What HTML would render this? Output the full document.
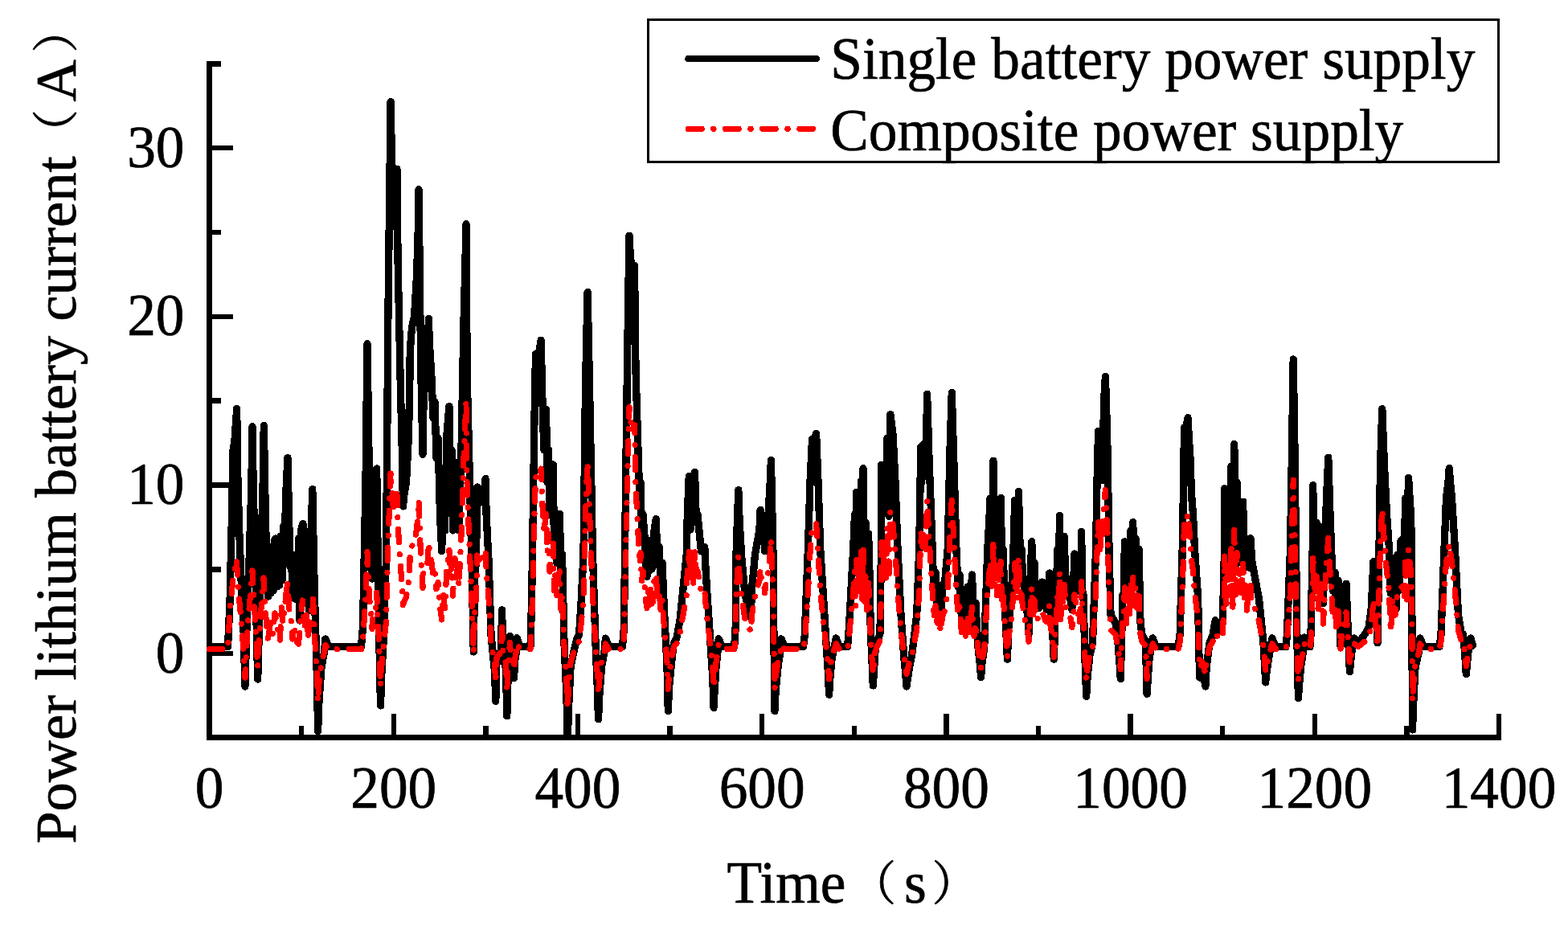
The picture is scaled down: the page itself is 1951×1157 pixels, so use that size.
<!DOCTYPE html>
<html lang="en"><head><meta charset="utf-8"><title>Power lithium battery current</title>
<style>
html,body{margin:0;padding:0;background:#fff;}
body{width:1951px;height:1157px;overflow:hidden;}
svg{display:block;}
path,rect{shape-rendering:crispEdges;}
text{font-family:"Liberation Serif","Noto Serif CJK SC",serif;font-size:73.3px;fill:#000;stroke:#000;stroke-width:0.7px;stroke-linejoin:round;}
.ax{stroke:#000;stroke-width:7;fill:none;stroke-linecap:butt;}
.tk{stroke:#000;stroke-width:6.4;fill:none;stroke-linecap:butt;}
.bl{stroke:#000;stroke-width:9.3;fill:none;stroke-linejoin:round;stroke-linecap:round;}
.rd{stroke:#f00;stroke-width:7.2;fill:none;stroke-linejoin:round;stroke-linecap:round;stroke-dasharray:16.3 14.9 0.1 14.8;}
</style></head><body>
<svg width="1951" height="1157" viewBox="0 0 1951 1157">
<rect width="1951" height="1157" fill="#fff"/>
<g id="axes" shape-rendering="crispEdges">
<path class="tk" d="M260.5,917.9 v-29.5 M375.1,917.9 v-15 M489.7,917.9 v-29.5 M604.3,917.9 v-15 M718.9,917.9 v-29.5 M833.5,917.9 v-15 M948.1,917.9 v-29.5 M1062.8,917.9 v-15 M1177.4,917.9 v-29.5 M1292.0,917.9 v-15 M1406.6,917.9 v-29.5 M1521.2,917.9 v-15 M1635.8,917.9 v-29.5 M1750.4,917.9 v-15 M1865.0,917.9 v-29.5 M260.5,917.9 h14.3 M260.5,813.1 h29.4 M260.5,708.3 h14.3 M260.5,603.5 h29.4 M260.5,498.6 h14.3 M260.5,393.8 h29.4 M260.5,289.0 h14.3 M260.5,184.2 h29.4 M260.5,79.4 h14.3"/>
<path class="ax" d="M260.5,75.9 V921.4 M257.0,917.9 H1868.3"/>
</g>
<clipPath id="plot"><rect x="257" y="60" width="1620" height="861"/></clipPath>
<g id="curves" clip-path="url(#plot)">
<path class="bl" d="M260.5,804.5 L283.5,804.5 L286.0,750.0 L288.5,640.0 L290.0,560.0 L292.0,548.0 L293.4,526.3 L294.7,508.5
L295.5,580.0 L297.7,660.0 L300.0,720.0 L303.0,780.0 L304.9,854.0 L307.0,780.0 L310.0,700.0 L312.8,606.8
L314.0,530.5 L315.2,606.8 L317.5,700.0 L319.2,780.0 L320.7,845.0 L322.5,780.0 L324.5,700.0 L327.1,606.2
L328.3,529.5 L330.5,650.0 L332.0,700.0 L333.7,742.0 L335.5,690.0 L337.0,738.0 L338.5,680.0 L340.0,735.0
L341.5,672.0 L343.0,670.0 L344.5,730.0 L346.0,672.0 L347.5,728.0 L349.3,667.0 L351.0,722.0 L352.5,655.0
L354.0,700.0 L355.5,620.0 L357.9,569.5 L359.5,640.0 L361.0,705.0 L362.5,690.0 L364.0,740.0 L365.5,700.0
L367.0,745.0 L368.5,690.0 L370.0,740.0 L371.5,670.0 L373.0,772.0 L374.5,660.0 L376.9,651.5 L378.5,740.0
L380.0,670.0 L381.5,745.0 L383.0,690.0 L384.5,760.0 L386.0,690.0 L387.6,645.2 L388.8,608.5 L390.5,700.0
L392.0,760.0 L394.4,842.2 L395.6,909.5 L396.9,873.7 L400.0,830.0 L403.6,810.8 L404.8,795.0 L409.0,804.5
L449.5,804.5 L451.5,780.0 L455.0,600.0 L457.0,427.5 L459.5,600.0 L461.8,666.0 L463.0,720.0 L464.2,658.4
L467.4,644.6 L468.7,583.0 L469.9,671.6 L471.5,780.0 L473.5,878.0 L474.8,838.4 L477.5,790.0 L480.3,700.0
L481.5,580.0 L482.6,420.0 L484.0,300.0 L486.1,126.5 L487.4,196.0 L488.2,211.5 L489.5,281.0 L490.8,249.3
L492.6,242.2 L493.9,210.5 L495.1,325.5 L498.0,466.0 L500.2,556.2 L501.5,630.0 L502.8,616.5 L505.5,600.0
L508.5,540.0 L509.8,480.0 L510.2,440.0 L511.5,418.6 L513.0,405.0 L515.5,394.0 L518.0,353.0 L520.0,300.0
L521.0,235.5 L521.8,300.0 L522.6,373.0 L524.0,470.0 L526.0,565.5 L527.2,489.4 L532.0,472.6 L533.3,396.5
L534.5,429.6 L537.0,470.0 L539.0,520.0 L541.0,500.0 L543.0,570.0 L545.0,545.0 L547.5,640.0 L549.7,685.5
L551.5,600.0 L553.5,660.0 L556.0,540.0 L557.6,521.0 L558.9,505.5 L560.5,600.0 L562.0,560.0 L563.5,660.0
L565.0,600.0 L566.0,575.0 L567.5,640.0 L569.5,610.0 L571.0,660.0 L572.2,615.0 L574.0,560.0 L577.0,400.0
L578.8,333.2 L580.0,278.5 L581.2,468.2 L587.0,700.0 L589.3,811.0 L590.5,718.8 L592.5,698.2 L593.7,606.0
L598.0,625.0 L599.2,611.7 L602.8,608.8 L604.0,595.5 L605.2,642.5 L608.2,700.0 L611.0,790.0 L615.5,835.3
L616.8,872.3 L618.0,821.3 L623.4,809.9 L624.6,758.9 L625.9,818.2 L629.5,831.4 L630.8,890.7 L632.0,846.2
L633.1,836.2 L634.4,791.7 L635.6,815.1 L638.2,820.2 L639.5,843.6 L640.8,821.1 L641.8,816.2 L643.0,793.7
L647.0,804.5 L660.0,804.5 L661.5,750.0 L662.5,690.0 L665.0,520.0 L666.5,440.5 L669.5,446.0 L673.1,423.3
L675.5,520.0 L677.0,560.0 L679.5,509.5 L681.0,600.0 L682.5,560.0 L684.0,640.0 L686.0,600.0 L688.2,578.0
L689.5,680.0 L691.0,640.0 L692.5,700.0 L694.5,650.0 L696.4,639.6 L698.0,720.0 L699.5,690.0 L702.0,800.0
L705.0,868.2 L706.2,924.0 L707.5,881.7 L710.0,830.0 L714.5,808.0 L717.9,794.8 L720.5,790.0 L723.0,751.5
L726.0,690.0 L728.5,480.0 L729.9,415.9 L731.1,363.4 L733.5,480.0 L737.5,690.0 L741.0,800.0 L743.2,852.1
L744.5,894.8 L745.8,865.6 L748.5,830.0 L752.1,810.3 L753.4,794.1 L757.5,804.5 L774.5,804.5 L776.5,780.0
L777.5,690.0 L780.4,460.0 L781.8,368.3 L783.0,293.3 L784.2,316.6 L784.8,321.7 L786.0,345.0 L789.5,330.5
L791.0,460.0 L794.0,560.0 L796.0,625.0 L797.0,600.0 L798.5,660.0 L800.0,640.0 L802.0,667.0 L803.5,700.0
L805.0,717.5 L806.5,680.0 L808.0,710.0 L809.5,672.0 L811.0,708.0 L812.5,705.0 L814.0,660.0 L816.3,645.7
L818.0,700.0 L820.0,680.0 L822.0,722.0 L824.0,700.0 L826.5,760.0 L830.0,828.5 L831.3,884.6 L832.5,855.5
L836.0,820.0 L838.5,800.0 L841.9,793.7 L846.0,772.0 L854.2,690.0 L855.3,640.0 L857.3,592.4 L859.1,659.0
L861.0,600.0 L862.8,649.2 L864.5,587.3 L866.2,643.0 L868.0,640.0 L870.2,663.0 L872.5,686.0 L876.8,680.6
L878.0,707.3 L880.0,740.0 L884.0,800.0 L886.8,844.3 L888.0,880.5 L889.2,857.8 L891.0,830.0 L893.0,810.6
L894.2,794.8 L898.3,804.5 L913.7,804.5 L915.2,780.0 L916.0,690.0 L917.5,645.7 L918.8,609.5 L920.0,645.7
L922.5,690.0 L927.0,740.0 L934.2,767.7 L935.5,732.7 L939.5,690.0 L944.9,659.5 L946.1,634.5 L947.4,657.5
L950.4,662.7 L951.6,685.7 L952.9,665.1 L956.0,640.0 L958.1,602.8 L959.4,572.3 L960.6,625.3 L962.0,690.0
L963.0,800.0 L963.9,884.6 L965.1,860.0 L968.0,830.0 L970.9,810.6 L972.1,794.8 L976.0,804.5 L999.5,804.5
L1001.3,790.0 L1005.4,683.0 L1008.0,600.0 L1010.5,546.5 L1013.0,548.0 L1015.6,539.5 L1018.0,600.0 L1020.7,683.0
L1025.0,750.0 L1028.0,800.0 L1030.3,835.3 L1031.6,864.2 L1032.8,844.3 L1035.0,820.0 L1040.2,793.9 L1044.3,804.5
L1054.6,804.5 L1056.5,780.0 L1061.7,683.0 L1063.5,640.0 L1064.7,700.1 L1065.8,612.3 L1067.4,700.8 L1069.0,612.0
L1070.2,706.4 L1071.5,598.0 L1072.8,694.4 L1074.0,582.5 L1075.5,705.8 L1077.0,650.0 L1078.8,711.6 L1080.5,664.0
L1081.5,690.0 L1083.3,785.0 L1085.0,822.4 L1086.3,853.0 L1087.5,833.6 L1089.0,810.0 L1091.5,798.0 L1095.0,788.0
L1096.2,700.0 L1096.6,578.4 L1098.5,628.5 L1100.5,590.0 L1102.2,629.5 L1104.0,545.0 L1106.0,642.3 L1107.9,515.5
L1111.0,540.0 L1114.0,600.0 L1117.0,683.0 L1121.0,765.0 L1125.0,820.0 L1126.8,838.7 L1128.0,854.0 L1131.5,830.0
L1134.5,816.0 L1140.7,765.0 L1143.7,683.0 L1145.8,555.9 L1146.8,600.2 L1147.9,554.0 L1149.0,591.9 L1150.0,552.0
L1151.8,590.1 L1153.6,490.3 L1156.0,570.0 L1160.2,683.0 L1162.0,740.0 L1164.0,712.0 L1166.0,760.0 L1168.0,728.0
L1170.4,768.9 L1172.5,735.0 L1176.0,720.0 L1179.2,683.0 L1182.0,560.0 L1184.3,488.2 L1185.5,529.5 L1187.0,580.0
L1189.9,683.0 L1192.0,730.0 L1194.0,715.0 L1196.5,772.0 L1199.0,738.0 L1201.5,778.0 L1204.0,730.0 L1206.5,782.0
L1207.8,751.9 L1208.2,745.1 L1209.4,715.0 L1210.7,743.4 L1210.8,749.6 L1212.0,778.0 L1214.0,750.0 L1215.2,774.8
L1217.0,805.0 L1219.3,825.7 L1220.6,842.7 L1221.8,826.2 L1224.7,806.0 L1228.8,683.0 L1230.8,648.4 L1232.0,620.0
L1234.0,700.1 L1236.0,573.3 L1237.5,681.2 L1239.0,625.0 L1240.5,700.2 L1242.0,630.0 L1243.6,677.5 L1245.2,619.4
L1246.6,697.6 L1248.0,683.0 L1250.5,760.0 L1252.2,793.1 L1253.4,820.2 L1254.7,784.1 L1258.5,740.0 L1261.0,683.0
L1262.7,622.5 L1263.8,698.6 L1265.0,625.0 L1266.2,701.5 L1267.4,611.3 L1269.2,685.2 L1271.0,683.0 L1272.2,708.6
L1275.0,740.0 L1278.8,767.2 L1280.0,789.4 L1282.0,720.0 L1283.8,673.8 L1285.4,744.7 L1287.0,700.0 L1289.0,751.5
L1291.0,740.0 L1292.4,756.7 L1293.8,732.0 L1295.1,744.0 L1296.5,724.0 L1297.6,748.9 L1298.8,734.5 L1301.0,745.0
L1302.2,758.4 L1303.3,729.0 L1304.5,741.0 L1305.7,713.0 L1307.3,758.8 L1309.0,770.0 L1311.3,820.2 L1312.5,784.1
L1314.0,740.0 L1316.0,683.0 L1317.2,725.3 L1318.5,641.4 L1319.8,736.3 L1321.0,670.0 L1322.6,722.2 L1324.2,667.6
L1326.1,734.7 L1328.0,720.0 L1330.9,739.4 L1333.8,758.7 L1335.0,727.3 L1335.8,720.4 L1337.0,689.0 L1339.0,726.8
L1341.0,720.0 L1342.2,735.8 L1343.3,690.8 L1344.4,731.1 L1345.6,661.5 L1346.8,735.1 L1348.0,740.0 L1350.0,820.0
L1351.7,866.3 L1353.0,843.2 L1356.0,815.0 L1359.5,800.0 L1363.6,683.0 L1365.0,600.0 L1366.6,536.4 L1368.5,595.3
L1370.5,541.0 L1372.0,597.7 L1373.5,500.0 L1375.4,468.3 L1376.7,509.6 L1378.0,560.0 L1380.0,683.0 L1382.0,765.0
L1388.0,775.0 L1391.0,800.0 L1393.0,824.6 L1394.3,844.8 L1395.5,797.6 L1395.8,787.2 L1397.0,740.0 L1398.2,742.3
L1399.4,673.8 L1400.6,728.3 L1401.7,677.9 L1402.8,737.1 L1404.0,682.0 L1405.5,735.8 L1407.0,660.0 L1408.3,730.4
L1409.7,649.6 L1411.3,718.0 L1413.0,670.0 L1415.0,719.2 L1417.0,683.0 L1419.0,775.0 L1421.0,790.0 L1424.0,795.0
L1425.5,800.0 L1427.1,863.2 L1428.3,843.8 L1430.0,820.0 L1434.3,793.9 L1438.4,804.5 L1466.0,804.5 L1468.1,790.0
L1471.2,683.0 L1472.6,600.0 L1473.5,532.0 L1475.5,535.0 L1478.0,519.6 L1479.2,542.3 L1481.0,570.0 L1482.5,615.0
L1484.5,640.0 L1486.5,683.0 L1490.7,745.0 L1491.5,800.0 L1492.7,843.0 L1496.0,830.0 L1499.9,854.0 L1501.2,829.7
L1505.0,800.0 L1509.0,790.0 L1512.2,771.8 L1517.3,786.0 L1521.4,775.0 L1523.5,683.0 L1523.5,607.8 L1524.8,699.4
L1526.0,619.2 L1527.3,688.7 L1528.6,630.7 L1530.3,702.4 L1532.0,580.0 L1533.9,699.8 L1535.8,552.4 L1537.4,708.6
L1539.0,600.0 L1540.8,697.7 L1542.5,640.0 L1544.5,699.5 L1546.6,624.2 L1548.3,694.6 L1550.0,670.0 L1551.5,702.7
L1553.0,680.0 L1554.5,706.3 L1555.9,669.7 L1558.0,700.0 L1566.5,745.0 L1572.0,800.0 L1573.5,826.9 L1574.7,848.9
L1576.0,835.9 L1578.5,820.0 L1582.9,793.9 L1587.0,804.5 L1600.0,804.5 L1601.4,790.0 L1605.5,683.0 L1607.5,560.0
L1609.2,447.0 L1611.0,560.0 L1612.5,683.0 L1614.0,800.0 L1615.4,868.3 L1616.7,851.1 L1618.5,830.0 L1621.7,809.6
L1622.9,793.0 L1626.5,804.5 L1630.0,804.5 L1631.0,790.0 L1633.2,683.0 L1633.6,603.7 L1636.0,690.0 L1638.0,650.0
L1640.0,720.0 L1642.5,655.3 L1644.5,705.0 L1646.4,750.5 L1648.5,680.0 L1650.5,620.0 L1652.8,569.2 L1655.0,640.0
L1656.6,683.0 L1658.5,735.0 L1661.0,712.0 L1663.0,765.0 L1665.0,722.0 L1666.2,758.8 L1666.8,766.9 L1668.0,803.7
L1669.2,784.0 L1671.0,760.0 L1673.8,741.5 L1675.0,726.3 L1677.5,790.0 L1679.4,835.5 L1682.0,810.0 L1685.3,794.0
L1690.0,800.0 L1694.0,795.0 L1699.0,788.0 L1703.0,780.0 L1706.0,760.0 L1707.7,726.2 L1708.9,698.6 L1710.2,721.7
L1711.5,750.0 L1714.0,799.7 L1716.0,683.0 L1717.5,580.0 L1719.8,508.7 L1721.0,540.8 L1722.5,580.0 L1725.5,640.0
L1728.5,683.0 L1730.2,738.1 L1732.0,694.0 L1733.8,752.0 L1735.5,705.0 L1737.2,757.1 L1739.0,690.0 L1740.8,734.4
L1742.7,673.8 L1746.5,670.0 L1747.5,693.9 L1748.5,620.0 L1750.5,667.3 L1752.6,594.4 L1753.8,614.9 L1755.5,640.0
L1756.5,683.0 L1757.0,800.0 L1757.5,908.0 L1758.8,872.9 L1761.0,830.0 L1765.7,810.2 L1766.9,794.0 L1771.4,804.5
L1791.0,804.5 L1793.0,790.0 L1797.0,683.0 L1799.5,620.0 L1802.0,599.4 L1803.2,582.5 L1804.5,599.4 L1806.5,620.0
L1810.4,683.0 L1814.5,765.0 L1818.6,790.0 L1820.6,789.0 L1822.5,810.0 L1824.3,838.6 L1825.5,825.7 L1827.0,810.0
L1829.9,794.0 L1832.5,803.0"/>
<path class="rd" d="M260.5,807.7 L283.5,807.7 L286.0,760.0 L290.0,720.0 L294.3,696.0 L297.0,740.0 L300.0,770.0 L303.0,810.0
L305.0,843.0 L307.0,800.0 L309.0,770.0 L314.0,710.0 L318.0,780.0 L320.7,830.0 L322.5,790.0 L324.0,770.0
L328.0,719.0 L331.0,770.0 L333.7,799.0 L336.0,775.0 L339.0,790.0 L342.0,763.0 L345.0,780.0 L348.5,797.0
L350.0,753.0 L352.0,775.0 L354.0,760.0 L357.5,722.0 L360.0,760.0 L362.0,770.0 L364.0,795.0 L366.0,778.0
L368.5,798.0 L371.5,801.0 L374.0,770.0 L376.4,747.0 L379.0,780.0 L381.0,765.0 L383.0,794.0 L386.0,770.0
L389.6,745.0 L391.5,790.0 L393.0,820.0 L394.4,831.2 L395.6,872.9 L396.9,850.7 L400.0,823.6 L403.6,811.6
L404.8,802.6 L409.0,807.7 L449.5,807.8 L451.5,797.0 L455.0,742.8 L457.0,685.8 L459.5,742.8 L461.8,764.5
L463.0,782.4 L464.2,762.0 L467.4,757.5 L468.7,737.2 L469.9,766.4 L471.5,797.0 L473.5,853.3 L474.8,828.8
L477.5,800.6 L480.3,775.8 L481.5,736.2 L482.6,683.4 L484.0,643.8 L486.1,586.5 L487.4,609.5 L488.2,614.6
L489.5,637.5 L490.8,627.0 L492.6,624.7 L493.9,614.2 L495.1,652.2 L498.0,698.5 L500.2,728.3 L501.5,752.7
L502.8,748.2 L505.5,742.8 L508.5,723.0 L509.8,703.2 L510.2,690.0 L511.5,682.9 L513.0,678.4 L515.5,674.8
L518.0,661.3 L520.0,643.8 L521.0,622.5 L521.8,643.8 L522.6,667.9 L524.0,699.9 L526.0,731.4 L527.2,706.3
L532.0,700.7 L533.3,675.6 L534.5,686.5 L537.0,699.9 L539.0,716.4 L541.0,709.8 L543.0,732.9 L545.0,724.6
L547.5,756.0 L549.7,771.0 L551.5,739.4 L553.5,757.0 L556.0,705.9 L557.6,693.5 L558.9,683.1 L560.5,719.5
L562.0,698.0 L563.5,741.1 L565.0,709.5 L566.0,694.9 L567.5,724.5 L569.5,704.9 L571.0,729.1 L572.2,701.9
L574.0,666.4 L577.0,569.4 L578.8,529.9 L580.0,497.7 L581.2,609.6 L587.0,746.4 L589.3,811.7 L590.5,757.4
L592.5,745.3 L593.7,690.9 L598.0,702.1 L599.2,694.3 L602.8,692.5 L604.0,684.7 L605.2,712.5 L608.2,746.4
L611.0,798.4 L615.5,826.8 L616.8,849.8 L618.0,818.2 L623.4,811.0 L624.6,780.6 L625.9,816.3 L629.5,824.4
L630.8,861.2 L632.0,833.6 L633.1,827.4 L634.4,799.5 L635.6,814.3 L638.2,817.5 L639.5,832.0 L640.8,818.1
L641.8,815.0 L643.0,800.7 L647.0,807.5 L660.0,807.5 L661.5,775.9 L662.5,740.5 L665.0,640.2 L666.5,593.3
L669.5,596.5 L673.1,583.1 L675.5,640.2 L677.0,663.8 L679.5,634.0 L681.0,687.4 L682.5,663.8 L684.0,711.0
L686.0,687.4 L688.2,674.4 L689.5,734.6 L691.0,711.0 L692.5,746.4 L694.5,716.9 L696.4,710.7 L698.0,758.2
L699.5,740.5 L702.0,804.6 L705.0,847.3 L706.2,881.9 L707.5,855.6 L710.0,823.6 L714.5,809.8 L717.9,801.4
L720.5,798.4 L723.0,776.7 L726.0,747.9 L728.5,636.6 L729.9,602.6 L731.1,574.8 L733.5,636.6 L737.5,740.5
L741.0,804.6 L743.2,837.3 L744.5,863.7 L745.8,845.7 L748.5,823.6 L752.1,811.2 L753.4,801.0 L757.5,807.5
L774.5,807.5 L776.5,792.5 L777.5,740.5 L780.4,604.8 L781.8,550.7 L783.0,506.4 L784.2,520.1 L784.8,523.2
L786.0,536.9 L789.5,528.4 L791.0,604.8 L794.0,663.8 L796.0,702.1 L797.0,687.4 L798.5,722.8 L800.0,711.0
L802.0,726.9 L803.5,746.4 L805.0,756.7 L806.5,734.6 L808.0,752.3 L809.5,729.8 L811.0,751.1 L812.5,749.3
L814.0,722.8 L816.3,714.3 L818.0,746.4 L820.0,734.6 L822.0,759.3 L824.0,746.4 L826.5,781.2 L830.0,822.7
L831.3,857.4 L832.5,839.4 L836.0,817.4 L838.5,804.6 L841.9,800.7 L846.0,787.8 L854.2,740.5 L855.3,711.0
L857.3,682.9 L859.1,722.0 L861.0,687.4 L862.8,729.1 L864.5,679.9 L866.2,710.3 L868.0,711.0 L871.2,725.9
L872.5,738.1 L876.8,734.9 L878.0,750.7 L880.0,770.0 L884.0,804.6 L886.8,832.4 L888.0,854.9 L889.2,840.8
L891.0,823.6 L893.0,811.5 L894.2,801.4 L898.3,807.5 L913.7,807.5 L915.2,792.5 L916.0,740.5 L917.5,714.3
L918.8,693.0 L920.0,714.3 L922.5,740.5 L927.0,770.0 L934.2,785.4 L935.5,765.7 L939.5,740.5 L944.9,722.5
L946.1,707.7 L947.4,721.3 L950.4,724.3 L951.6,737.9 L952.9,725.8 L956.0,711.0 L958.1,689.0 L959.4,671.0
L960.6,702.3 L962.0,740.5 L963.0,804.6 L963.9,857.4 L965.1,842.2 L968.0,823.6 L970.9,811.5 L972.1,801.4
L976.0,807.5 L999.5,807.5 L1001.3,798.4 L1005.4,736.3 L1008.0,687.4 L1010.5,655.8 L1013.0,656.7 L1015.6,651.7
L1018.0,687.4 L1020.7,736.3 L1025.0,775.9 L1028.0,804.6 L1030.3,826.9 L1031.6,844.8 L1032.8,832.4 L1035.0,817.4
L1040.2,800.8 L1044.3,807.5 L1054.6,807.5 L1056.5,792.5 L1061.7,736.3 L1063.5,711.0 L1064.7,755.0 L1065.8,694.6
L1067.4,738.9 L1069.0,694.4 L1070.2,740.7 L1071.5,686.2 L1072.8,745.5 L1074.0,677.0 L1075.5,755.0 L1077.0,716.9
L1078.8,758.8 L1080.5,725.1 L1081.5,740.5 L1083.3,795.4 L1085.0,818.9 L1086.3,837.8 L1087.5,825.8 L1089.0,811.1
L1091.5,803.4 L1095.0,797.2 L1096.2,746.4 L1096.6,674.6 L1098.5,712.7 L1100.5,681.5 L1102.2,719.1 L1104.0,654.9
L1106.0,713.9 L1107.9,637.5 L1111.0,652.0 L1114.0,687.4 L1117.0,736.3 L1121.0,783.9 L1125.0,817.4 L1126.8,829.0
L1128.0,838.5 L1131.5,823.6 L1134.5,814.9 L1140.7,783.9 L1143.7,736.3 L1145.8,661.3 L1147.9,680.4 L1150.0,659.0
L1151.8,684.0 L1153.6,622.6 L1156.0,669.7 L1160.2,736.3 L1162.0,770.0 L1164.0,753.4 L1166.0,781.2 L1168.0,762.9
L1170.4,786.1 L1172.5,767.0 L1176.0,758.2 L1179.2,736.3 L1182.0,663.8 L1184.3,621.4 L1185.5,645.8 L1187.0,675.6
L1189.9,736.3 L1192.0,764.1 L1194.0,755.2 L1196.5,787.8 L1199.0,768.8 L1201.5,791.3 L1204.0,764.1 L1206.5,793.6
L1207.8,776.8 L1208.2,773.0 L1209.4,755.2 L1210.7,771.9 L1210.8,775.7 L1212.0,791.3 L1214.0,775.9 L1215.2,789.4
L1217.0,807.8 L1219.3,820.9 L1220.6,831.4 L1221.8,821.2 L1224.7,808.5 L1228.8,736.3 L1230.8,715.9 L1232.0,699.2
L1234.0,729.2 L1236.0,671.6 L1237.5,730.5 L1239.0,702.1 L1240.5,740.8 L1242.0,705.1 L1243.6,733.0 L1245.2,698.8
L1246.6,753.1 L1248.0,736.3 L1250.5,781.2 L1252.2,800.3 L1253.4,817.5 L1254.7,794.9 L1258.5,770.0 L1261.0,736.3
L1262.7,700.6 L1263.8,734.4 L1265.0,702.1 L1266.2,747.1 L1267.4,694.0 L1269.2,741.5 L1271.0,736.3 L1272.2,751.5
L1275.0,770.0 L1278.8,785.1 L1280.0,798.1 L1282.0,758.2 L1283.8,730.9 L1285.4,769.7 L1287.0,746.4 L1289.0,771.2
L1291.0,770.0 L1296.5,760.5 L1301.0,772.9 L1303.3,773.9 L1305.7,754.0 L1307.3,782.7 L1309.0,786.7 L1311.3,817.5
L1312.5,794.9 L1314.0,770.0 L1316.0,736.3 L1317.2,767.9 L1318.5,711.8 L1319.8,770.6 L1321.0,728.7 L1322.6,754.3
L1324.2,727.2 L1326.1,755.4 L1328.0,758.2 L1332.5,770.7 L1333.8,780.5 L1335.4,771.0 L1337.0,739.9 L1338.2,748.1
L1341.0,758.2 L1343.3,776.4 L1345.6,723.7 L1346.8,756.6 L1348.0,770.0 L1350.0,817.4 L1351.7,846.1 L1353.0,831.8
L1356.0,814.3 L1359.5,804.6 L1363.6,736.3 L1365.0,687.4 L1366.6,649.8 L1368.5,689.1 L1370.5,652.6 L1372.0,666.1
L1373.5,628.4 L1375.4,609.7 L1376.7,634.0 L1378.0,663.8 L1380.0,736.3 L1382.0,783.9 L1388.0,789.6 L1391.0,804.6
L1393.0,820.3 L1394.3,832.7 L1395.5,803.2 L1397.0,770.0 L1398.2,769.3 L1399.4,730.9 L1401.7,775.5 L1404.0,735.7
L1405.5,769.0 L1407.0,722.8 L1408.3,754.5 L1409.7,716.6 L1411.3,753.8 L1413.0,728.7 L1415.0,758.6 L1417.0,736.3
L1419.0,789.6 L1421.0,798.4 L1424.0,801.5 L1425.5,804.6 L1427.1,844.2 L1428.3,832.1 L1430.0,817.4 L1434.3,800.8
L1438.4,807.5 L1466.0,807.5 L1468.1,798.4 L1471.2,736.3 L1472.6,687.4 L1473.5,647.2 L1475.5,649.0 L1478.0,639.9
L1479.2,653.3 L1481.0,669.7 L1482.5,696.2 L1484.5,711.0 L1486.5,736.3 L1490.7,772.9 L1491.5,804.6 L1492.7,831.6
L1496.0,823.6 L1499.9,838.5 L1501.2,823.4 L1505.0,804.6 L1509.0,798.4 L1512.2,787.7 L1517.3,796.0 L1521.4,789.6
L1523.5,736.3 L1523.5,692.0 L1524.8,718.5 L1524.8,724.4 L1526.0,751.0 L1527.3,730.5 L1527.3,726.0 L1528.6,705.5
L1530.3,740.8 L1532.0,675.6 L1533.9,755.1 L1535.8,659.3 L1537.4,740.0 L1539.0,687.4 L1540.8,734.2 L1542.5,711.0
L1544.5,737.8 L1546.6,701.6 L1548.3,743.4 L1550.0,728.7 L1551.5,759.3 L1553.0,734.6 L1554.5,742.7 L1555.9,728.5
L1557.0,744.7 L1558.0,746.4 L1566.5,772.9 L1572.0,804.6 L1573.5,821.6 L1574.7,835.3 L1576.0,827.2 L1578.5,817.4
L1582.9,800.8 L1587.0,807.5 L1600.0,807.5 L1601.4,798.4 L1605.5,736.3 L1607.5,663.8 L1609.2,597.1 L1611.0,663.8
L1612.5,736.3 L1614.0,804.6 L1615.4,847.3 L1616.7,836.6 L1618.5,823.6 L1621.7,810.8 L1622.9,800.3 L1626.5,807.5
L1630.0,807.5 L1631.0,798.4 L1633.2,736.3 L1633.6,689.5 L1636.0,740.5 L1638.0,716.9 L1640.0,758.2 L1642.5,720.0
L1644.5,749.3 L1646.4,776.1 L1648.5,734.6 L1650.5,699.2 L1652.8,669.2 L1655.0,711.0 L1656.6,736.3 L1658.5,767.0
L1661.0,753.4 L1663.0,783.9 L1665.0,759.3 L1666.2,780.5 L1666.8,785.0 L1668.0,807.0 L1669.2,794.9 L1671.0,781.2
L1673.8,770.8 L1675.0,761.9 L1677.5,798.4 L1679.4,827.0 L1682.0,811.1 L1685.3,800.9 L1690.0,804.6 L1694.0,801.5
L1699.0,797.2 L1703.0,792.5 L1706.0,781.2 L1707.7,761.8 L1708.9,745.5 L1710.2,759.2 L1711.5,775.9 L1714.0,804.5
L1716.0,736.3 L1717.5,675.6 L1719.8,633.5 L1721.0,652.4 L1722.5,675.6 L1725.5,711.0 L1728.5,736.3 L1730.4,786.0
L1733.0,745.0 L1736.0,765.0 L1739.0,735.0 L1742.7,730.9 L1746.5,728.7 L1747.5,742.6 L1748.5,699.2 L1750.5,746.0
L1752.6,684.1 L1753.8,696.2 L1755.5,711.0 L1756.5,736.3 L1757.0,804.6 L1757.5,871.9 L1758.8,850.2 L1761.0,823.6
L1765.7,811.2 L1766.9,800.9 L1771.4,807.5 L1791.0,807.5 L1793.0,798.4 L1797.0,736.3 L1799.5,699.2 L1802.0,687.0
L1803.2,677.0 L1804.5,687.0 L1806.5,699.2 L1810.4,736.3 L1814.5,783.9 L1818.6,798.4 L1820.6,797.8 L1822.5,811.1
L1824.3,828.9 L1825.5,820.9 L1827.0,811.1 L1829.9,800.9 L1832.5,806.5"/>
</g>
<g id="ticklabels">
<text transform="translate(260.5,1005.0) scale(0.973,1)" text-anchor="middle">0</text>
<text transform="translate(489.7,1005.0) scale(0.973,1)" text-anchor="middle">200</text>
<text transform="translate(718.9,1005.0) scale(0.973,1)" text-anchor="middle">400</text>
<text transform="translate(948.1,1005.0) scale(0.973,1)" text-anchor="middle">600</text>
<text transform="translate(1177.4,1005.0) scale(0.973,1)" text-anchor="middle">800</text>
<text transform="translate(1406.6,1005.0) scale(0.973,1)" text-anchor="middle">1000</text>
<text transform="translate(1635.8,1005.0) scale(0.973,1)" text-anchor="middle">1200</text>
<text transform="translate(1865.0,1005.0) scale(0.973,1)" text-anchor="middle">1400</text>
<text transform="translate(229.5,836.5) scale(0.973,1)" text-anchor="end">0</text>
<text transform="translate(229.5,626.9) scale(0.973,1)" text-anchor="end">10</text>
<text transform="translate(229.5,417.2) scale(0.973,1)" text-anchor="end">20</text>
<text transform="translate(229.5,207.6) scale(0.973,1)" text-anchor="end">30</text>
</g>
<text transform="translate(904.4,1123) scale(0.973,1)">Time<tspan x="157.8" y="-3.2" font-size="58.6">（</tspan><tspan x="226.7" y="0">s</tspan><tspan x="262.3" y="-3.2" font-size="58.6">）</tspan></text>
<text transform="translate(93.5,1049.8) rotate(-90) scale(0.989,0.985)">Power lithium battery current<tspan x="865.2" y="-3.4" font-size="58.6">（</tspan><tspan x="933.5" y="0">A</tspan><tspan x="995.1" y="-3.4" font-size="58.6">）</tspan></text>
<g id="legend" shape-rendering="crispEdges">
<rect x="806.7" y="24.7" width="1058" height="176.5" fill="#fff" stroke="#000" stroke-width="2.8"/>
<path d="M856.4,73.2 H1015.8" stroke="#000" stroke-width="8.4" stroke-linecap="round" fill="none"/>
<path d="M856.6,160.4 H1011.3" stroke="#f00" stroke-width="7.4" stroke-linecap="round" stroke-dasharray="16.4 14.8 0.1 14.8" fill="none"/>
<text transform="translate(1033.3,98.0) scale(0.973,1)" text-anchor="start">Single battery power supply</text>
<text transform="translate(1033.3,186.5) scale(0.973,1)" text-anchor="start">Composite power supply</text>
</g>
</svg>
</body></html>
